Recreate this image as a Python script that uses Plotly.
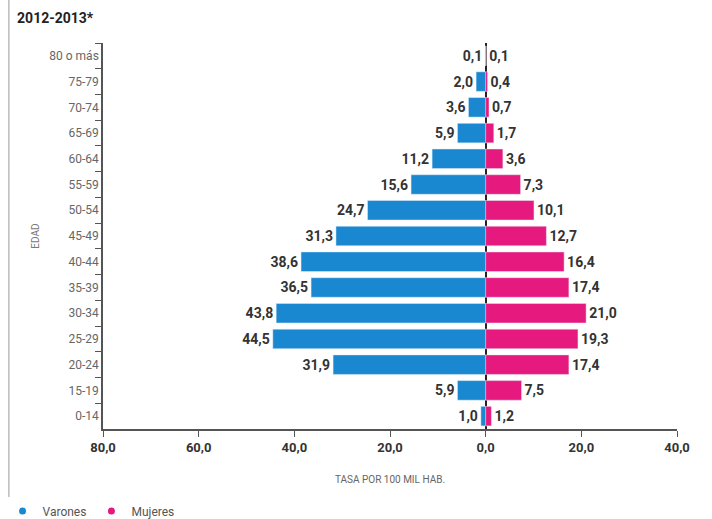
import plotly.graph_objects as go

edades = ["80 o más", "75-79", "70-74", "65-69", "60-64", "55-59", "50-54", "45-49",
          "40-44", "35-39", "30-34", "25-29", "20-24", "15-19", "0-14"]
varones = [0.1, 2.0, 3.6, 5.9, 11.2, 15.6, 24.7, 31.3, 38.6, 36.5, 43.8, 44.5, 31.9, 5.9, 1.0]
mujeres = [0.1, 0.4, 0.7, 1.7, 3.6, 7.3, 10.1, 12.7, 16.4, 17.4, 21.0, 19.3, 17.4, 7.5, 1.2]
tick_vals = [-80, -60, -40, -20, 0, 20, 40]
tick_text = ["80,0", "60,0", "40,0", "20,0", "0,0", "20,0", "40,0"]

AZUL = "#1a88d0"
ROSA = "#e6197e"

def fmt(v):
    return f"{v:.1f}".replace(".", ",")

fig = go.Figure()
fig.add_trace(go.Bar(
    y=edades, x=[-v for v in varones], orientation="h", marker_color=AZUL,
    text=[fmt(v) for v in varones], textposition="outside", cliponaxis=False,
    textfont=dict(size=14, color="#333333", family="Roboto", weight="bold"),
    showlegend=False, name="Varones"))
fig.add_trace(go.Bar(
    y=edades, x=mujeres, orientation="h", marker_color=ROSA,
    text=[fmt(v) for v in mujeres], textposition="outside", cliponaxis=False,
    textfont=dict(size=14, color="#333333", family="Roboto", weight="bold"),
    showlegend=False, name="Mujeres"))
# legend entries (round markers)
fig.add_trace(go.Scatter(x=[None], y=[None], mode="markers", name="Varones",
                         marker=dict(color=AZUL, size=7, symbol="circle")))
fig.add_trace(go.Scatter(x=[None], y=[None], mode="markers", name="Mujeres",
                         marker=dict(color=ROSA, size=7, symbol="circle")))

fig.update_layout(
    width=712, height=519,
    margin=dict(l=103, r=35, t=43, b=90, autoexpand=False),
    paper_bgcolor="white", plot_bgcolor="white",
    barmode="overlay", bargap=0.24,
    font=dict(family="Roboto", color="#444444"),
    title=dict(text="<b>2012-2013*</b>", x=0.024, xanchor="left", y=0.975, yanchor="top",
               font=dict(size=14, color="#222222", family="Roboto")),
    xaxis=dict(range=[-80, 40], tickvals=tick_vals, ticktext=tick_text, automargin=False,
               showgrid=False, zeroline=True, zerolinecolor="#222222", zerolinewidth=2,
               showline=True, linecolor="#555555", linewidth=1.5,
               ticks="outside", ticklen=6, tickcolor="#555555",
               tickfont=dict(size=13, color="#333333", family="Roboto", weight="bold"),
               title=dict(text="TASA POR 100 MIL HAB.", standoff=22,
                          font=dict(size=10, color="#666666", family="Roboto"))),
    yaxis=dict(autorange="reversed", type="category", tickson="boundaries", automargin=False,
               showgrid=False, showline=True, linecolor="#555555", linewidth=1.5,
               ticks="outside", ticklen=6, tickcolor="#555555",
               tickfont=dict(size=12, color="#666666", family="Roboto"),
               title=dict(text="EDAD", standoff=8,
                          font=dict(size=10, color="#777777", family="Roboto"))),
    legend=dict(orientation="h", x=-0.175, xanchor="left", y=-0.175, yanchor="top",
                font=dict(size=12, color="#555555", family="Roboto"),
                itemwidth=30, tracegroupgap=0),
    shapes=[dict(type="line", xref="paper", yref="paper", x0=-0.164, x1=-0.164,
                 y0=-0.235, y1=1.115, line=dict(color="#bbbbbb", width=1.5))],
)

fig.write_html("out.html")
